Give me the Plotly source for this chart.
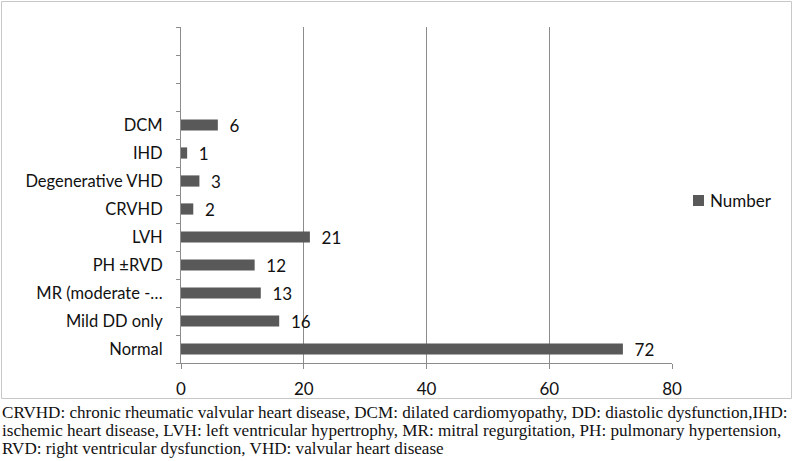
import plotly.graph_objects as go

categories = ["Normal", "Mild DD only", "MR (moderate -…", "PH ±RVD", "LVH",
              "CRVHD", "Degenerative VHD", "IHD", "DCM", " ", "  ", "   "]
values = [72, 16, 13, 12, 21, 2, 3, 1, 6, None, None, None]
x_ticks = [0, 20, 40, 60, 80]
series_name = "Number"
caption_lines = [
    "CRVHD: chronic rheumatic valvular heart disease, DCM: dilated cardiomyopathy, DD: diastolic dysfunction,IHD:",
    "ischemic heart disease, LVH: left ventricular hypertrophy, MR: mitral regurgitation, PH: pulmonary hypertension,",
    "RVD: right ventricular dysfunction, VHD: valvular heart disease",
]

W, H = 793, 461
L, R, T, B = 181, 121, 27, 98
pw, ph = W - L - R, H - T - B
BAR_COLOR = "#595959"

def px_x(x):
    return (x - L) / pw

def px_y(y):
    return (H - B - y) / ph

SANS = "Lato, Open Sans, sans-serif"

fig = go.Figure()
fig.add_trace(go.Bar(
    y=categories, x=values, orientation="h", name=series_name,
    marker=dict(color=BAR_COLOR, line=dict(width=0)),
    texttemplate="\u00a0\u00a0%{x}",
    textposition="outside", cliponaxis=False, constraintext="none",
    textfont=dict(family=SANS, size=17, color="#111111"),
    showlegend=False,
))

fig.update_layout(
    width=W, height=H,
    margin=dict(l=L, r=R, t=T, b=B, autoexpand=False),
    paper_bgcolor="white", plot_bgcolor="white",
    bargap=0.6,
    font=dict(family=SANS, size=16, color="#111111"),
    xaxis=dict(
        range=[0, 80], tickvals=x_ticks, showgrid=True, gridcolor="#8c8c8c", gridwidth=1,
        zeroline=False, showline=True, linecolor="#8c8c8c", linewidth=1,
        ticks="outside", ticklen=5, tickcolor="#8c8c8c", automargin=False,
        tickfont=dict(size=17), ticklabelstandoff=6,
    ),
    yaxis=dict(
        type="category", categoryorder="array", categoryarray=categories,
        showgrid=False, zeroline=False, showline=True, linecolor="#8c8c8c", linewidth=1,
        ticks="outside", ticklen=4, tickcolor="#8c8c8c", tickson="boundaries",
        automargin=False, tickfont=dict(size=16.5), ticklabelstandoff=14,
    ),
)

# legend (swatch + label)
fig.add_shape(type="rect", xref="paper", yref="paper",
              x0=px_x(693), x1=px_x(704), y0=px_y(206), y1=px_y(195),
              line=dict(width=0), fillcolor=BAR_COLOR)
fig.add_annotation(text=series_name, xref="paper", yref="paper",
                   x=px_x(708), y=px_y(200.5), xanchor="left", yanchor="middle",
                   showarrow=False, font=dict(family=SANS, size=17, color="#111111"))

# outer chart border
fig.add_shape(type="rect", xref="paper", yref="paper",
              x0=px_x(1.5), x1=px_x(791.5), y0=px_y(398.5), y1=px_y(1.5),
              line=dict(color="#c8c8c8", width=1), fillcolor="rgba(0,0,0,0)", layer="below")

for i, line in enumerate(caption_lines):
    fig.add_annotation(text=line, xref="paper", yref="paper",
                       x=px_x(0), y=px_y(412 + 18 * i), xanchor="left", yanchor="middle",
                       showarrow=False, align="left",
                       font=dict(family="Liberation Serif, Times New Roman, serif", size=17.1, color="#111111"))

fig.write_html("out.html", config={"displayModeBar": False},
               post_script="document.body.style.margin='0';document.body.style.overflow='hidden';")
